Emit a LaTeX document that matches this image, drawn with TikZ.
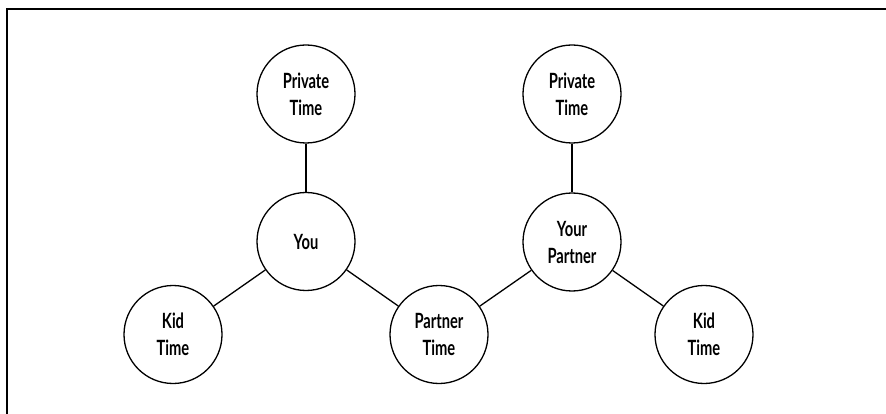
\documentclass[tikz,border=0pt]{standalone}
\usepackage{fontspec}
\setmainfont{Lato}[FakeStretch=0.7]
\begin{document}
\begin{tikzpicture}[x=1pt,y=-1pt,
  bubble/.style={draw,circle,minimum size=98pt,inner sep=0pt,line width=1.3pt,
    align=center,font=\fontsize{21}{27}\selectfont\bfseries},
  link/.style={line width=1.3pt},
  frame/.style={line width=1.8pt}]
\useasboundingbox (0,0) rectangle (886,414);
\coordinate (tl) at (7,9);
\coordinate (tr) at (886,9);
\coordinate (bl) at (7,414);
\draw[frame] (tr) -- (tl) -- (bl);
\node[bubble] (lpriv) at (306,94) {Private\\Time};
\node[bubble] (you) at (306,241.5) {You};
\node[bubble] (lkid) at (173,334.5) {Kid\\Time};
\node[bubble] (ptime) at (439,334.5) {Partner\\Time};
\node[bubble] (rpriv) at (572,94) {Private\\Time};
\node[bubble] (partner) at (572,242) {Your\\Partner};
\node[bubble] (rkid) at (704,334.5) {Kid\\Time};
\draw[link] (lpriv) -- (you);
\draw[link] (you) -- (lkid);
\draw[link] (you) -- (ptime);
\draw[link] (ptime) -- (partner);
\draw[link] (rpriv) -- (partner);
\draw[link] (partner) -- (rkid);
\end{tikzpicture}
\end{document}
